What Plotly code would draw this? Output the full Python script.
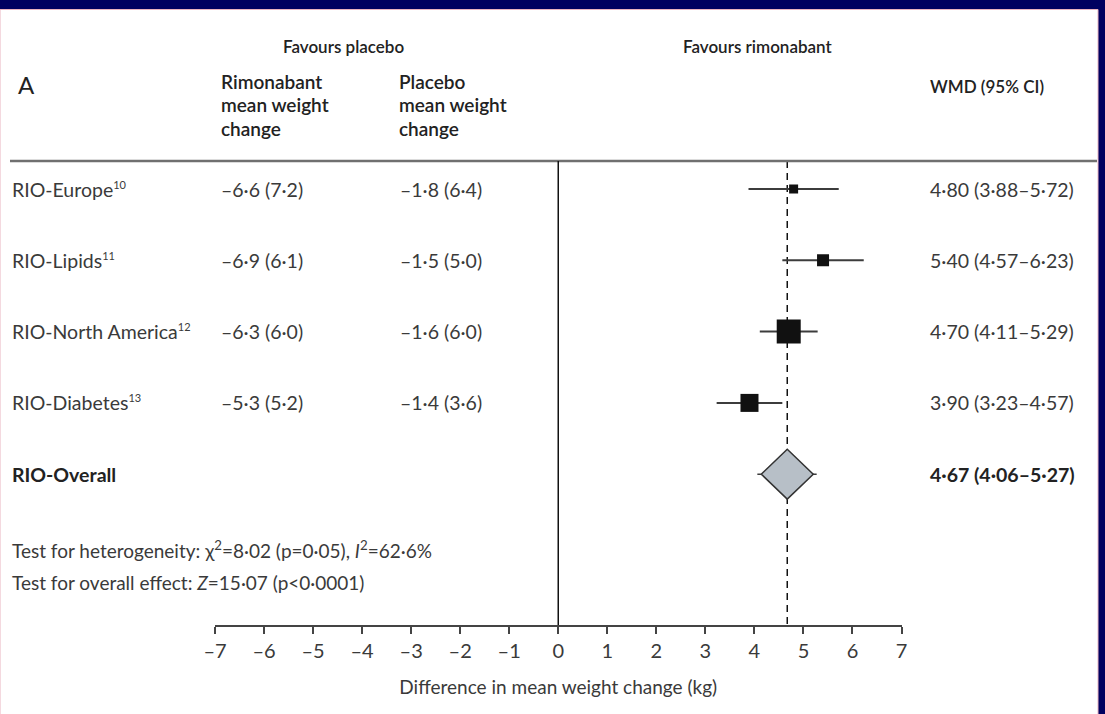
import plotly.graph_objects as go

# ---------------- data ----------------
study_names = ["RIO-Europe", "RIO-Lipids", "RIO-North America", "RIO-Diabetes"]
study_refs = ["10", "11", "12", "13"]
rimo_mean = [-6.6, -6.9, -6.3, -5.3]
rimo_sd = [7.2, 6.1, 6.0, 5.2]
plac_mean = [-1.8, -1.5, -1.6, -1.4]
plac_sd = [6.4, 5.0, 6.0, 3.6]
wmd = [4.80, 5.40, 4.70, 3.90]
wmd_lo = [3.88, 4.57, 4.11, 3.23]
wmd_hi = [5.72, 6.23, 5.29, 4.57]
overall_name = "RIO-Overall"
overall_wmd = 4.67
overall_lo = 4.06
overall_hi = 5.27
x_ticks = [-7, -6, -5, -4, -3, -2, -1, 0, 1, 2, 3, 4, 5, 6, 7]
x_title = "Difference in mean weight change (kg)"
heterogeneity_text = "Test for heterogeneity: χ<sup>2</sup>=8·02 (p=0·05), <i>I</i><sup>2</sup>=62·6%"
overall_effect_text = "Test for overall effect: <i>Z</i>=15·07 (p&lt;0·0001)"

# ---------------- styles ----------------
W, H = 1105, 714
FONT = "Lato"
TXT = "#3a3a3a"
DARK = "#222222"
BODY = 19.5
marker_px = [9, 12, 24, 18]
ROW0_PX, ROW_STEP = 189.0, 71.3
AXIS_PX = 625.0
X0_PX, X1_PX = 215.0, 901.5


def fmt(v, nd=1):
    s = f"{abs(v):.{nd}f}".replace(".", "·")
    return ("–" + s) if v < 0 else s


def px(x):
    return x / W


def py(y):
    return 1 - y / H


def row_of(pix):
    return (pix - ROW0_PX) / ROW_STEP


rows = list(range(len(study_names)))
overall_row = len(study_names)

fig = go.Figure()

# study estimates with CI whiskers
fig.add_trace(go.Scatter(
    x=wmd, y=rows, mode="markers",
    marker=dict(symbol="square", size=marker_px, color="#111111", opacity=1, line=dict(width=0)),
    error_x=dict(type="data", symmetric=False,
                 array=[h - m for h, m in zip(wmd_hi, wmd)],
                 arrayminus=[m - l for m, l in zip(wmd, wmd_lo)],
                 color="#3c3c3c", thickness=2, width=0),
    showlegend=False, hoverinfo="skip"))

# overall CI line
fig.add_trace(go.Scatter(
    x=[overall_wmd], y=[overall_row], mode="markers",
    marker=dict(size=1, color="rgba(0,0,0,0)"),
    error_x=dict(type="data", symmetric=False,
                 array=[overall_hi - overall_wmd],
                 arrayminus=[overall_wmd - overall_lo],
                 color="#3c3c3c", thickness=1.5, width=0),
    showlegend=False, hoverinfo="skip"))

# overall diamond
dhw, dhh = 0.53, 0.35
fig.add_trace(go.Scatter(
    x=[overall_wmd - dhw, overall_wmd, overall_wmd + dhw, overall_wmd, overall_wmd - dhw],
    y=[overall_row, overall_row - dhh, overall_row, overall_row + dhh, overall_row],
    mode="lines", fill="toself", fillcolor="#b7bfc7",
    line=dict(color="#333333", width=1.5),
    showlegend=False, hoverinfo="skip"))

rule_row = row_of(161)
shapes = [
    # white panel inside navy frame
    dict(type="rect", xref="paper", yref="paper", x0=0, x1=px(1098), y0=-0.01, y1=py(9.5),
         fillcolor="white", line=dict(color="#e9b3c0", width=1), layer="below"),
    # header rule
    dict(type="line", xref="paper", yref="paper", x0=px(10), x1=px(1097), y0=py(161), y1=py(161),
         line=dict(color="#707070", width=2.5)),
    # zero line
    dict(type="line", xref="x", yref="y", x0=0, x1=0, y0=rule_row, y1=row_of(AXIS_PX),
         line=dict(color="#111111", width=1.5)),
    # overall dashed line
    dict(type="line", xref="x", yref="y", x0=overall_wmd, x1=overall_wmd, y0=rule_row, y1=row_of(AXIS_PX),
         line=dict(color="#111111", width=1.5, dash="7px,5px"), layer="below"),
]

ann = []


def add_text(x_px, y_px, text, size=BODY, color=TXT, xanchor="left", weight=None, yref="paper", yval=None):
    f = dict(family=FONT, size=size, color=color)
    if weight:
        f["weight"] = weight
    ann.append(dict(xref="paper", yref=yref, x=px(x_px), y=(py(y_px) if yval is None else yval),
                    text=text, showarrow=False, xanchor=xanchor, yanchor="middle", font=f))


# header
add_text(343, 47, "Favours placebo", size=17, xanchor="center", color=DARK, weight=600)
add_text(757, 47, "Favours rimonabant", size=17, xanchor="center", color=DARK, weight=600)
add_text(16, 84, "A", size=24, color=DARK)
for i, line in enumerate(["Rimonabant", "mean weight", "change"]):
    add_text(219, 81 + 23.5 * i, line, size=19, color=DARK, weight=600)
for i, line in enumerate(["Placebo", "mean weight", "change"]):
    add_text(397, 81 + 23.5 * i, line, size=19, color=DARK, weight=600)
add_text(928, 86, "WMD (95% CI)", size=17, color=DARK, weight=600)

# study rows
for i in rows:
    add_text(10, 0, f"{study_names[i]}<sup><span style='font-size:11px'>{study_refs[i]}</span></sup>",
             yref="y", yval=i)
    add_text(219, 0, f"{fmt(rimo_mean[i])} ({fmt(rimo_sd[i])})", yref="y", yval=i)
    add_text(398, 0, f"{fmt(plac_mean[i])} ({fmt(plac_sd[i])})", yref="y", yval=i)
    add_text(928, 0, f"{fmt(wmd[i], 2)} ({fmt(wmd_lo[i], 2)}–{fmt(wmd_hi[i], 2)})", yref="y", yval=i)

add_text(10, 0, f"<b>{overall_name}</b>", yref="y", yval=overall_row, color=DARK)
add_text(928, 0, f"<b>{fmt(overall_wmd, 2)} ({fmt(overall_lo, 2)}–{fmt(overall_hi, 2)})</b>",
         yref="y", yval=overall_row, color=DARK)

add_text(10, 549, heterogeneity_text, size=19)
add_text(10, 582, overall_effect_text, size=19)

fig.update_layout(
    width=W, height=H, margin=dict(l=0, r=0, t=0, b=0, pad=0, autoexpand=False),
    paper_bgcolor="#000060", plot_bgcolor="rgba(0,0,0,0)",
    shapes=shapes, annotations=ann, showlegend=False,
    xaxis=dict(domain=[px(X0_PX), px(X1_PX)], range=[-7, 7], automargin=False,
               tickvals=x_ticks, ticktext=[fmt(v, 0) for v in x_ticks],
               showgrid=False, zeroline=False, showline=True, linecolor="#444444", linewidth=1.5,
               ticks="outside", ticklen=7, tickwidth=1.5, tickcolor="#444444",
               tickfont=dict(family=FONT, size=20, color=TXT),
               title=dict(text=x_title, font=dict(family=FONT, size=19, color=TXT), standoff=20)),
    yaxis=dict(domain=[py(AXIS_PX), 1], range=[row_of(AXIS_PX), row_of(0)], automargin=False,
               visible=False, showgrid=False, zeroline=False),
)

fig.write_html("out.html")
